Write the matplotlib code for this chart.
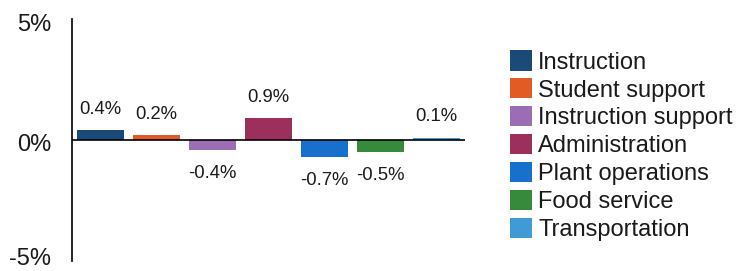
import matplotlib
matplotlib.use("Agg")
import matplotlib.pyplot as plt
import matplotlib.transforms as mtransforms
from matplotlib.patches import Patch

categories = ["Instruction", "Student support", "Instruction support", "Administration",
              "Plant operations", "Food service", "Transportation"]
values = [0.4, 0.2, -0.4, 0.9, -0.7, -0.5, 0.1]
value_labels = ["0.4%", "0.2%", "-0.4%", "0.9%", "-0.7%", "-0.5%", "0.1%"]
colors = ["#1b4a78", "#e35b24", "#9a6db5", "#9c2f5c", "#1670cc", "#378a3c", "#3f9ad6"]
yticks = [-5, 0, 5]
ytick_labels = ["-5%", "0%", "5%"]

plt.rcParams['font.family'] = ['Liberation Sans', 'DejaVu Sans']
txt = "#1a1a1a"

fig = plt.figure(figsize=(7.48, 2.71), dpi=100)
ax = fig.add_axes([72/748, 1-261/271, (465-72)/748, (261-19)/271])

x = list(range(len(values)))
ax.bar(x, values, width=0.84, color=colors, zorder=2)
ax.axhline(0, color="black", lw=1.2, zorder=3)

for xi, v, lab in zip(x, values, value_labels):
    if v >= 0:
        ax.annotate(lab, (xi, v), xytext=(0, 15), textcoords="offset points",
                    ha="center", va="center", fontsize=13.3, color=txt)
    else:
        ax.annotate(lab, (xi, v), xytext=(0, -17), textcoords="offset points",
                    ha="center", va="center", fontsize=13.3, color=txt)

ax.set_xlim(-0.51, 6.51)
ax.set_ylim(-5, 5)
ax.set_yticks(yticks)
ax.set_yticklabels(ytick_labels, fontsize=17, color=txt)
ax.tick_params(axis="y", length=0, pad=15)
# nudge tick labels slightly inward, as in the reference
shifts = {"-5%": 3.5, "0%": -1.5, "5%": -2.5}
for lab in ax.get_yticklabels():
    dy = shifts.get(lab.get_text(), 0)
    lab.set_transform(lab.get_transform() +
                      mtransforms.ScaledTranslation(0, dy / 72, fig.dpi_scale_trans))
ax.set_xticks([])
for s in ["top", "right", "bottom"]:
    ax.spines[s].set_visible(False)
ax.spines["left"].set_linewidth(1.2)
ax.patch.set_alpha(0)

handles = [Patch(facecolor=c, edgecolor="none") for c in colors]
fig.legend(handles, categories, loc="upper left",
           bbox_to_anchor=(510/748, 1-50.5/271), frameon=False,
           fontsize=17, handlelength=0.93, handleheight=0.93,
           handletextpad=0.27, labelspacing=0.2, borderpad=0, borderaxespad=0,
           labelcolor=txt)

fig.savefig("out.png", dpi=100)
